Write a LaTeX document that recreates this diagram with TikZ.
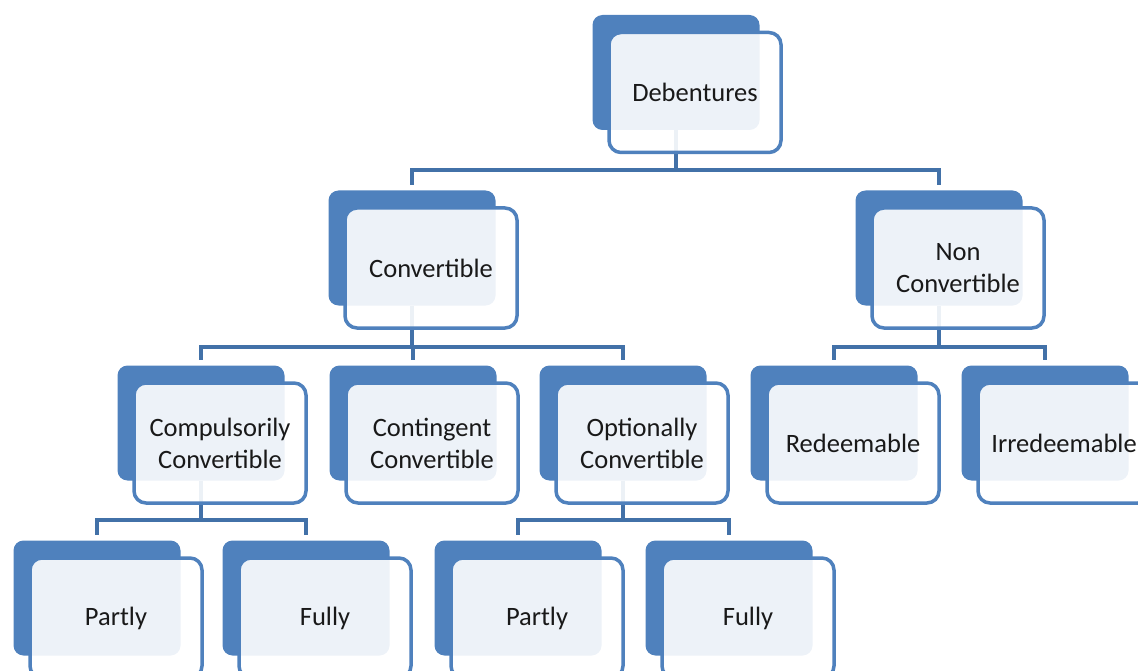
\documentclass[tikz,border=0pt]{standalone}
\usepackage{fontspec}
\setmainfont{Carlito}
\definecolor{accent}{RGB}{79,129,189}
\definecolor{connc}{RGB}{66,113,168}
\begin{document}
\begin{tikzpicture}[x=1pt,y=-1pt,
  back/.style={draw=none, fill=accent, rounded corners=10pt,
    minimum width=167pt, minimum height=115pt, inner sep=0pt},
  front/.style={draw=accent, line width=3.5pt, fill=white, fill opacity=0.9,
    text opacity=1, rounded corners=12pt, minimum width=172pt,
    minimum height=120pt, inner sep=0pt, align=center,
    xshift=19pt, yshift=-20pt,
    font=\fontsize{26.5}{32}\selectfont, text=black!90},
  conn/.style={draw=connc, line width=4pt},
  drop/.style={conn, shorten >=5pt}]
\useasboundingbox (0,0) rectangle (1138,671);
\clip (0,0) rectangle (1138,671);

% back panels
\node[back] (deb)  at (676,72.5) {};
\node[back] (conv) at (412,248) {};
\node[back] (nonc) at (939,248) {};
\node[back] (comp) at (201,423) {};
\node[back] (cont) at (413,423) {};
\node[back] (opt)  at (623,423) {};
\node[back] (red)  at (834,423) {};
\node[back] (irr)  at (1045,423) {};
\node[back] (pa)   at (97,598) {};
\node[back] (fa)   at (306,598) {};
\node[back] (pb)   at (518,598) {};
\node[back] (fb)   at (729,598) {};

% bus levels
\coordinate (l1) at (0,170);
\coordinate (l2) at (0,347);
\coordinate (l3) at (0,520);

% connectors
\draw[conn] (deb.south) -- (deb.south |- l1);
\draw[drop] (deb.south |- l1) -| (conv.north);
\draw[drop] (deb.south |- l1) -| (nonc.north);

\draw[conn] (conv.south) -- (conv.south |- l2);
\draw[drop] (conv.south |- l2) -| (comp.north);
\draw[drop] (conv.south |- l2) -| (cont.north);
\draw[drop] (conv.south |- l2) -| (opt.north);

\draw[conn] (nonc.south) -- (nonc.south |- l2);
\draw[drop] (nonc.south |- l2) -| (red.north);
\draw[drop] (nonc.south |- l2) -| (irr.north);

\draw[conn] (comp.south) -- (comp.south |- l3);
\draw[drop] (comp.south |- l3) -| (pa.north);
\draw[drop] (comp.south |- l3) -| (fa.north);

\draw[conn] (opt.south) -- (opt.south |- l3);
\draw[drop] (opt.south |- l3) -| (pb.north);
\draw[drop] (opt.south |- l3) -| (fb.north);

% front panels with text
\node[front] (deb-f)  at (deb)  {Debentures};
\node[front] (conv-f) at (conv) {Convertible};
\node[front] (nonc-f) at (nonc) {Non\\Convertible};
\node[front] (comp-f) at (comp) {Compulsorily\\Convertible};
\node[front] (cont-f) at (cont) {Contingent\\Convertible};
\node[front] (opt-f)  at (opt)  {Optionally\\Convertible};
\node[front] (red-f)  at (red)  {Redeemable};
\node[front] (irr-f)  at (irr)  {Irredeemable};
\node[front] (pa-f)   at (pa)   {Partly};
\node[front] (fa-f)   at (fa)   {Fully};
\node[front] (pb-f)   at (pb)   {Partly};
\node[front] (fb-f)   at (fb)   {Fully};
\end{tikzpicture}
\end{document}
